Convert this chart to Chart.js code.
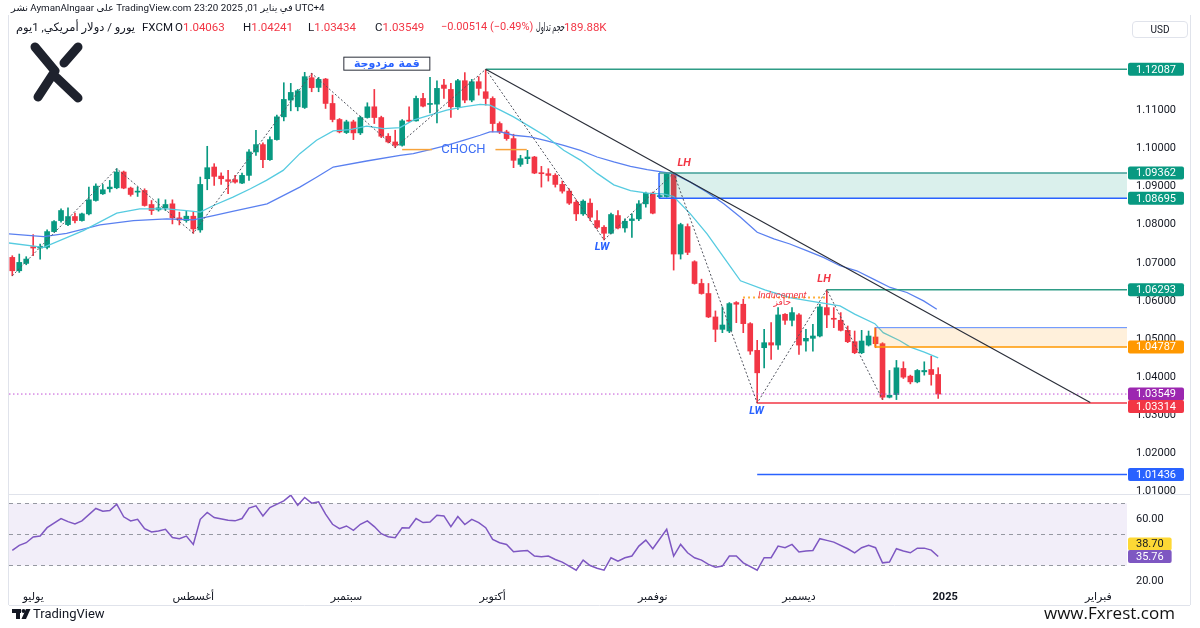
<!DOCTYPE html>
<html>
<head>
<meta charset="utf-8">
<script src="https://cdn.jsdelivr.net/npm/chart.js@4.4.1/dist/chart.umd.min.js"></script>
<style>
 html,body{margin:0;padding:0;background:#ffffff;}
 #wrap{position:relative;width:1200px;height:628px;overflow:hidden;background:#fff;}
 #c{position:absolute;left:0;top:0;}
 .t{position:absolute;white-space:nowrap;color:#131722;font-family:Roboto,"Noto Sans","DejaVu Sans",sans-serif;}
 #h1{left:11px;top:2px;font-size:9.8px;}
 #h2{left:16px;top:20px;font-size:11.5px;}
 #h2 > span{display:inline-block;vertical-align:top;overflow:visible;}
 .r{color:#f23645;}
 #vol span{display:inline-block;transform:scaleX(0.56);transform-origin:0 50%;}
 #usd{left:1132px;top:21px;width:54px;height:15px;border:1px solid #e0e3eb;border-radius:4px;font-size:10px;text-align:center;line-height:15px;}
 #tv{left:33px;top:606px;font-size:13px;color:#131722;}
 #fx{left:1044px;top:601px;font-size:17px;color:#111;font-family:"Open Sans","Noto Sans",sans-serif;}
</style>
</head>
<body>
<div id="wrap">
<canvas id="c" width="1200" height="628"></canvas>
<div class="t" id="h1">نشر AymanAlngaar على TradingView.com في يناير 01, 2025 23:20 UTC+4</div>
<div class="t" id="h2"><span style="width:126px">يورو / دولار أمريكي, 1يوم</span><span style="width:33px">FXCM</span><span style="width:68px">O<span class="r">1.04063</span></span><span style="width:65px">H<span class="r">1.04241</span></span><span style="width:67px">L<span class="r">1.03434</span></span><span style="width:66px">C<span class="r">1.03549</span></span><span class="r" style="width:95px;font-size:11px">−0.00514 (−0.49%)</span><span id="vol" style="width:28px"><span>حجم تداول</span></span><span class="r">189.88K</span></div>
<div class="t" id="usd">USD</div>
<div class="t" id="tv">TradingView</div>
<div class="t" id="fx">www.Fxrest.com</div>
</div>
<script>
// ---------- DATA ----------
const openP = [1.07142,1.06790,1.06984,1.07424,1.07388,1.07406,1.07820,1.08110,1.08004,1.08216,
 1.08110,1.08286,1.08638,1.08814,1.08946,1.08972,1.09386,1.08964,1.08858,1.08902,
 1.08532,1.08392,1.08444,1.08550,1.08181,1.08110,1.08225,1.07864,1.09210,1.09518,
 1.09280,1.09184,1.09184,1.09096,1.09298,1.09914,1.10107,1.09711,1.10239,1.10837,
 1.11277,1.11101,1.11083,1.11866,1.11611,1.11831,1.11189,1.10767,1.10424,1.10705,
 1.10415,1.10819,1.11101,1.10819,1.10327,1.10177,1.10089,1.10749,1.10731,1.11321,
 1.11163,1.11171,1.11673,1.11558,1.11101,1.11787,1.11277,1.11761,1.11497,1.11321,
 1.10661,1.10441,1.10265,1.09588,1.09738,1.09781,1.09368,1.09342,1.09298,1.09060,
 1.08884,1.08594,1.08286,1.08568,1.08110,1.07934,1.07776,1.08242,1.07916,1.08110,
 1.08154,1.08550,1.08831,1.08740,1.08743,1.09340,1.07230,1.07952,1.07028,1.06456,
 1.06192,1.05576,1.05250,1.05206,1.05954,1.05910,1.05400,1.04697,1.04767,1.04899,
 1.04837,1.05646,1.05488,1.05629,1.04943,1.05014,1.05075,1.05822,1.05541,1.05488,
 1.05224,1.04925,1.04635,1.04837,1.05049,1.04873,1.03465,1.03535,1.04222,1.04019,
 1.03869,1.04133,1.04194,1.04063];
const highP = [1.07186,1.07230,1.07160,1.07740,1.07494,1.07864,1.08110,1.08418,1.08444,1.08304,
 1.08304,1.08990,1.09078,1.09060,1.09166,1.09474,1.09412,1.08990,1.08990,1.08946,
 1.08638,1.08682,1.08656,1.08656,1.08330,1.08357,1.08330,1.09254,1.10063,1.09606,
 1.09368,1.09430,1.09298,1.09360,1.09975,1.10485,1.10151,1.10309,1.10881,1.11734,
 1.11717,1.11558,1.12007,1.11981,1.11875,1.11848,1.11409,1.10793,1.10749,1.10749,
 1.10855,1.11207,1.11558,1.10855,1.10397,1.10485,1.10767,1.11101,1.11382,1.11453,
 1.11875,1.11787,1.11822,1.11717,1.11822,1.12000,1.11822,1.11893,1.12087,1.11365,
 1.10705,1.10485,1.10380,1.09826,1.09957,1.09799,1.09535,1.09474,1.09342,1.09148,
 1.08946,1.08656,1.08656,1.08682,1.08374,1.07978,1.08304,1.08374,1.08154,1.08286,
 1.08638,1.08858,1.08858,1.08790,1.09350,1.09362,1.08040,1.08022,1.07054,1.06570,
 1.06456,1.05734,1.05840,1.05954,1.05980,1.06042,1.05426,1.04961,1.05250,1.05426,
 1.05822,1.05664,1.05822,1.05664,1.05250,1.05382,1.05910,1.06293,1.05822,1.05690,
 1.05338,1.05206,1.05224,1.05206,1.05294,1.04899,1.04169,1.04433,1.04397,1.04046,
 1.04194,1.04397,1.04547,1.04241];
const lowP = [1.06658,1.06746,1.06948,1.07186,1.07098,1.07362,1.07802,1.08066,1.07978,1.08048,
 1.08092,1.08260,1.08620,1.08796,1.08858,1.08946,1.08946,1.08752,1.08744,1.08488,
 1.08269,1.08357,1.08374,1.08022,1.07996,1.08066,1.07776,1.07802,1.08920,1.09034,
 1.09060,1.08814,1.09096,1.09078,1.09166,1.09826,1.09500,1.09694,1.10221,1.10731,
 1.10995,1.10995,1.11057,1.11497,1.11497,1.11057,1.10705,1.10415,1.10397,1.10239,
 1.10371,1.10802,1.10661,1.10291,1.10151,1.10028,1.10063,1.10705,1.10723,1.11101,
 1.10943,1.10679,1.11321,1.10819,1.11031,1.11207,1.11233,1.11409,1.11145,1.10441,
 1.10397,1.10221,1.09500,1.09535,1.09606,1.09342,1.08990,1.09148,1.08990,1.08831,
 1.08532,1.08110,1.08242,1.08110,1.07890,1.07600,1.07758,1.07890,1.07802,1.07670,
 1.08110,1.08462,1.08286,1.08720,1.08726,1.06808,1.07098,1.07213,1.06438,1.06174,
 1.05558,1.04925,1.05162,1.05162,1.05426,1.05162,1.04591,1.03314,1.04239,1.04459,
 1.04723,1.05382,1.05338,1.04591,1.04679,1.04679,1.05049,1.05294,1.05294,1.05206,
 1.04899,1.04609,1.04609,1.04811,1.04767,1.03403,1.03447,1.03403,1.03958,1.03817,
 1.03843,1.04046,1.03782,1.03434];
const closeP = [1.06790,1.07010,1.07098,1.07388,1.07432,1.07820,1.08084,1.08374,1.08216,1.08110,
 1.08286,1.08656,1.09016,1.08920,1.08990,1.09386,1.08964,1.08796,1.08884,1.08506,
 1.08374,1.08444,1.08532,1.08181,1.08128,1.08225,1.07890,1.09060,1.09500,1.09272,
 1.09210,1.09140,1.09122,1.09298,1.09914,1.10107,1.09711,1.10239,1.10837,1.11295,
 1.11479,1.11523,1.11893,1.11602,1.11822,1.11189,1.10767,1.10441,1.10705,1.10415,
 1.10819,1.11101,1.10819,1.10327,1.10177,1.10089,1.10731,1.10723,1.11321,1.11119,
 1.11189,1.11585,1.11585,1.11101,1.11787,1.11277,1.11761,1.11585,1.11321,1.10661,
 1.10441,1.10265,1.09694,1.09738,1.09781,1.09359,1.09342,1.09298,1.09060,1.08884,
 1.08568,1.08286,1.08620,1.08198,1.07934,1.07776,1.08269,1.07916,1.08092,1.08154,
 1.08550,1.08831,1.08304,1.08760,1.09342,1.07230,1.08004,1.07274,1.06456,1.06192,
 1.05576,1.05250,1.05364,1.05927,1.05910,1.05400,1.04679,1.04107,1.04899,1.04837,
 1.05629,1.05488,1.05690,1.04837,1.05014,1.05075,1.05840,1.05629,1.05515,1.05224,
 1.04925,1.04635,1.04943,1.05075,1.04873,1.03465,1.03518,1.04239,1.03993,1.03869,
 1.04169,1.04169,1.04063,1.03549];

// moving averages: [bar index, price]
const maFast = [[-0.5,1.0752],[4.5,1.07406],[10.2,1.07846],[15,1.08304],[18.3,1.08418],[22.2,1.08418],[25,1.08374],[27,1.0833],[28.9,1.08506],[31.7,1.08726],[34.2,1.08946],[36.5,1.09166],[38.9,1.0943],[41.3,1.09869],[43.7,1.10221],[46.1,1.10467],[48.5,1.10503],[50.9,1.10591],[53.3,1.10529],[55.7,1.10555],[57.6,1.10749],[60,1.10881],[62.4,1.11013],[64.8,1.11101],[67.2,1.11163],[68.6,1.11145],[70.1,1.11013],[72,1.10837],[74.4,1.10573],[76.8,1.10309],[79.2,1.0996],[81.6,1.0970],[84,1.0935],[86.4,1.0905],[88.8,1.0890],[91.2,1.0883],[93.5,1.08814],[95,1.08743],[97.4,1.08286],[99.8,1.07758],[102.2,1.07142],[104.6,1.06526],[108.1,1.06289],[111.7,1.06086],[115.1,1.0598],[118.9,1.05866],[121,1.0565],[123.9,1.05399],[125.1,1.05162],[127.5,1.0495],[129,1.04784],[131,1.0465],[133,1.04502]];
const maSlow = [[-0.5,1.07758],[4.5,1.07688],[7.8,1.07776],[12.6,1.07996],[17.4,1.0811],[22.2,1.08154],[26,1.08128],[28.9,1.08242],[31.8,1.08357],[36.6,1.0855],[41.3,1.0899],[43.7,1.0925],[46.1,1.09518],[50.9,1.09676],[55.7,1.09826],[57.6,1.09869],[60,1.09975],[62.4,1.10089],[64.8,1.10221],[67.2,1.10353],[68.6,1.10441],[70.1,1.10441],[72,1.10353],[74.4,1.10309],[76.8,1.10203],[79.2,1.10089],[81.6,1.09957],[84,1.09781],[86.4,1.0965],[88.8,1.09535],[91.2,1.09447],[93.5,1.09386],[95,1.09342],[97.4,1.09122],[99.8,1.08858],[102.2,1.0855],[104.6,1.08198],[107,1.07802],[109.4,1.07626],[111.7,1.07494],[114.1,1.07318],[116.5,1.07142],[118.9,1.06922],[121.3,1.0679],[123.7,1.0657],[126.1,1.06351],[128.5,1.06219],[130.9,1.05998],[132.8,1.05779]];

const zigzag = [[0,1.06658],[15,1.09474],[26,1.07776],[43,1.11981],[55,1.10028],[68,1.12087],[85,1.07600],[95,1.09362],[107,1.03314],[117,1.06293],[125,1.03403]];
const trendLine = [[68,1.12087],[154.85,1.03326]];

const rsiIdx = [0,1,2,3,4,5,7,8,9,10,12,13,14,15,16,17,18,19,20,21,22,23,24,25,26,27,28,29,31,32,33,34,35,36,37,39,40,41,42,43,44,45,46,47,48,49,50,51,52,53,54,55,56,57,58,59,60,61,62,63,64,65,66,67,68,69,70,71,72,73,74,75,76,77,78,79,81,82,83,84,85,86,87,88,89,90,91,92,94,95,96,97,98,99,100,101,102,103,104,105,107,108,109,110,111,112,113,114,115,116,117,118,120,121,122,123,124,125,126,127,128,129,130,131,132,133];
const rsiVal = [39.7,43.0,44.7,48.4,49.0,54.4,60.3,58.3,56.8,58.8,66.8,65.0,65.5,69.6,61.4,58.8,59.8,53.8,51.6,52.3,53.4,48.0,47.3,49.0,43.6,59.8,64.2,60.9,59.2,58.8,60.3,67.0,68.5,62.0,67.4,71.7,75.4,68.9,73.9,70.2,71.1,63.1,56.6,53.8,55.5,52.7,56.6,58.8,55.1,50.5,48.6,47.9,54.4,54.2,60.3,57.7,58.1,62.4,62.0,55.1,61.6,56.4,59.8,57.7,54.4,46.9,44.7,43.6,38.9,39.3,39.7,36.1,35.6,36.1,33.9,32.2,27.0,33.5,30.0,28.2,27.0,35.0,32.8,35.0,36.1,42.5,46.4,40.8,53.4,36.1,43.6,38.2,35.0,33.5,30.7,28.9,29.6,36.1,36.1,31.7,27.0,35.0,35.0,42.5,41.5,43.6,38.7,39.3,39.7,47.3,46.2,45.1,40.8,38.2,41.5,43.0,41.5,31.7,32.2,40.8,39.3,38.2,41.2,41.2,39.9,35.76];
const rsiMaLast = 38.70;
const rsiLevels = [70, 50, 30];

const levels = [1.12087,1.09362,1.08695,1.06293,1.04787,1.03549,1.03314,1.01436];
const levelStart = [68,92.9,92.9,117,123.9,-1,107,107];
const orangeZoneTop = 1.05294;
const chochLevel = 1.09976, chochFrom = 56, chochTo = 73.9;
const inducementLevel = 1.06086, inducementFrom = 105, inducementTo = 116.8;

const priceTicks = [1.01,1.02,1.03,1.04,1.05,1.06,1.07,1.08,1.09,1.10,1.11,1.12];
const rsiTicks = [20,40,60];
const monthTickIdx = [3,26,48,69,92,113,134,156];
const monthLabels = ['يوليو','أغسطس','سبتمبر','أكتوبر','نوفمبر','ديسمبر','2025','فبراير'];

// ---------- VIEW ----------
const X_MIN = -0.474, X_MAX = 160.12;
const P_MIN = 1.009209, P_MAX = 1.134884;
const R_MIN = 15.48, R_MAX = 76.13;
const GREEN = '#089981', RED = '#f23645';
const FONT = 'Roboto, "Noto Sans", "DejaVu Sans", sans-serif';

const pts = a => a.map(p => ({x: p[0], y: p[1]}));
const hl = (from, v, to) => [{x: from, y: v}, {x: (to === undefined ? X_MAX : to), y: v}];
const line = (data, color, width, extra) => Object.assign({type: 'line', data, borderColor: color, borderWidth: width, pointRadius: 0, pointHoverRadius: 0, fill: false, tension: 0, yAxisID: 'y', order: 2}, extra || {});

const candleCol = openP.map((o, i) => closeP[i] >= o ? GREEN : RED);
const wicks = openP.map((o, i) => ({x: i, y: [lowP[i], highP[i]]}));
const bodies = openP.map((o, i) => ({x: i, y: [o, closeP[i]]}));
const startOf = i => levelStart[i] < 0 ? X_MIN : levelStart[i];

const datasets = [
  line(pts(zigzag), '#50535e', 1, {borderDash: [2, 2], order: 1}),
  line(pts(trendLine), '#2a2e39', 1.2, {order: 1}),
  line(hl(chochFrom, chochLevel, 60.3), '#f7a33b', 1.5, {order: 1}),
  line(hl(69.4, chochLevel, chochTo), '#f7a33b', 1.5, {order: 1}),
  line(hl(inducementFrom, inducementLevel, inducementTo), '#ff9800', 2, {borderDash: [1.5, 3.5], order: 1}),
  line(hl(startOf(0), levels[0]), '#2e9c86', 1.5),
  line(hl(startOf(1), levels[1]), '#3f9f97', 1.5, {fill: {value: levels[2]}, backgroundColor: 'rgba(8,153,129,0.15)', order: 3}),
  line(hl(startOf(2), levels[2]), '#2962ff', 1.5),
  line([{x: startOf(1), y: levels[2]}, {x: startOf(1), y: levels[1]}], '#2962ff', 1.5),
  line(hl(startOf(3), levels[3]), '#2e9c86', 1.5),
  line(hl(startOf(4), orangeZoneTop), '#5b8cff', 1, {fill: {value: levels[4]}, backgroundColor: 'rgba(255,152,0,0.14)', order: 3}),
  line(hl(startOf(4), levels[4]), '#ff9800', 1.5),
  line([{x: startOf(4), y: levels[4]}, {x: startOf(4), y: orangeZoneTop}], '#ff9800', 1),
  line(hl(startOf(5), levels[5]), '#c24fd6', 1, {borderDash: [1.5, 2.5]}),
  line(hl(startOf(6), levels[6]), '#f23645', 1.5),
  line(hl(startOf(7), levels[7]), '#2962ff', 1.5),
  line(pts(maFast), '#56cbe0', 1.3, {order: 4}),
  line(pts(maSlow), '#5a80f0', 1.3, {order: 4}),
  {type: 'bar', data: bodies, backgroundColor: candleCol, borderWidth: 0, barThickness: 5, minBarLength: 1, grouped: false, yAxisID: 'y', order: 5},
  {type: 'bar', data: wicks, backgroundColor: candleCol, borderWidth: 0, barThickness: 1, grouped: false, yAxisID: 'y', order: 6},
  // RSI pane
  line(rsiIdx.map((x, i) => ({x, y: rsiVal[i]})), '#7e57c2', 1.5, {yAxisID: 'yr', order: 1}),
  line(hl(X_MIN, rsiLevels[0]), '#9598a1', 1, {yAxisID: 'yr', borderDash: [4, 4], order: 7}),
  line(hl(X_MIN, rsiLevels[1]), '#9598a1', 1, {yAxisID: 'yr', borderDash: [4, 4], order: 7}),
  line(hl(X_MIN, rsiLevels[2]), '#9598a1', 1, {yAxisID: 'yr', borderDash: [4, 4], order: 7}),
  line(hl(X_MIN, rsiLevels[0]), 'rgba(0,0,0,0)', 0, {yAxisID: 'yr', fill: {value: rsiLevels[2]}, backgroundColor: 'rgba(126,87,194,0.10)', order: 9})
];

function rr(ctx, x, y, w, h, r) {
  ctx.beginPath();
  ctx.moveTo(x + r, y); ctx.lineTo(x + w - r, y); ctx.quadraticCurveTo(x + w, y, x + w, y + r);
  ctx.lineTo(x + w, y + h - r); ctx.quadraticCurveTo(x + w, y + h, x + w - r, y + h);
  ctx.lineTo(x + r, y + h); ctx.quadraticCurveTo(x, y + h, x, y + h - r);
  ctx.lineTo(x, y + r); ctx.quadraticCurveTo(x, y, x + r, y); ctx.closePath();
}
function tag(ctx, y, text, bg, fg) {
  ctx.font = '11px ' + FONT;
  const w = ctx.measureText(text).width + 16;
  ctx.fillStyle = bg; rr(ctx, 1128, y - 6.5, w, 13, 2); ctx.fill();
  ctx.fillStyle = fg; ctx.textAlign = 'left'; ctx.textBaseline = 'middle';
  ctx.fillText(text, 1136, y + 0.5);
}

const overlay = {
  id: 'overlay',
  afterDraw(chart) {
    const ctx = chart.ctx, xs = chart.scales.x, ys = chart.scales.y, yr = chart.scales.yr;
    const X = v => xs.getPixelForValue(v), Y = v => ys.getPixelForValue(v);
    ctx.save();
    // pane borders
    ctx.strokeStyle = '#e0e3eb'; ctx.lineWidth = 1;
    ctx.beginPath();
    ctx.moveTo(9, 494.5); ctx.lineTo(1190, 494.5);
    ctx.moveTo(9, 605.5); ctx.lineTo(1190, 605.5);
    ctx.moveTo(1190.5, 15); ctx.lineTo(1190.5, 605);
    ctx.moveTo(8.5, 15); ctx.lineTo(8.5, 605);
    ctx.stroke();

    // text annotations
    ctx.textAlign = 'center'; ctx.textBaseline = 'middle';
    ctx.font = '13px ' + FONT; ctx.fillStyle = '#3d6ef5';
    ctx.fillText('CHOCH', X(64.8), Y(chochLevel));
    ctx.font = 'italic bold 11px ' + FONT; ctx.fillStyle = '#f23645';
    ctx.fillText('LH', X(96.5), Y(1.09627));
    ctx.fillText('LH', X(116.6), Y(1.06579));
    ctx.fillStyle = '#2962ff';
    ctx.fillText('LW', X(84.7), Y(1.07410));
    ctx.fillText('LW', X(106.9), Y(1.03095));
    ctx.font = 'italic 9.5px ' + FONT; ctx.fillStyle = '#f23645';
    ctx.fillText('Inducement', X(110.6), Y(1.06149));
    ctx.font = '9px "DejaVu Sans", sans-serif';
    ctx.fillText('حافز', X(110.6), Y(1.05950));
    // double top box
    const bx = X(53.8), by = Y(1.12235);
    ctx.fillStyle = '#ffffff'; ctx.fillRect(bx - 43.5, by - 7, 87, 14);
    ctx.strokeStyle = '#2a2e39'; ctx.lineWidth = 1; ctx.strokeRect(bx - 43.5 + 0.5, by - 7 + 0.5, 86, 13);
    ctx.font = 'bold 11px "DejaVu Sans", sans-serif'; ctx.fillStyle = '#2962ff';
    ctx.fillText('قمة مزدوجة', bx, by + 0.5);

    // price tags
    const tcol = [GREEN, GREEN, GREEN, GREEN, '#ff9800', '#9c27b0', '#f23645', '#2962ff'];
    const fixedY = Y(levels[5]);
    levels.forEach((v, i) => {
      let y = Y(v);
      if (i !== 5 && Math.abs(y - fixedY) < 12.5) y = y > fixedY ? fixedY + 12.5 : fixedY - 12.5;
      tag(ctx, y, v.toFixed(5), tcol[i], '#ffffff');
    });
    const rY = yr.getPixelForValue(rsiVal[rsiVal.length - 1]);
    let mY = yr.getPixelForValue(rsiMaLast);
    if (Math.abs(mY - rY) < 12.5) mY = rY - 12.5;
    tag(ctx, mY, rsiMaLast.toFixed(2), '#fdd835', '#131722');
    tag(ctx, rY, rsiVal[rsiVal.length - 1].toFixed(2), '#7e57c2', '#ffffff');

    // logo
    ctx.strokeStyle = '#1e222d'; ctx.lineWidth = 9; ctx.lineCap = 'round'; ctx.lineJoin = 'round';
    ctx.beginPath();
    ctx.moveTo(35, 47); ctx.lineTo(55, 71); ctx.lineTo(38, 97);
    ctx.moveTo(57, 78); ctx.lineTo(78, 98);
    ctx.moveTo(78, 47); ctx.lineTo(64, 63);
    ctx.stroke();

    // TradingView mark
    ctx.fillStyle = '#131722';
    ctx.fillRect(12, 609, 9, 4); ctx.fillRect(16, 609, 4, 10);
    ctx.beginPath(); ctx.arc(23.5, 611, 2, 0, Math.PI * 2); ctx.fill();
    ctx.beginPath(); ctx.moveTo(26, 609); ctx.lineTo(30.5, 609); ctx.lineTo(26, 619); ctx.lineTo(21.5, 619); ctx.closePath(); ctx.fill();
    ctx.restore();
  }
};

new Chart(document.getElementById('c'), {
  type: 'bar',
  data: {datasets},
  options: {
    responsive: false, animation: false, devicePixelRatio: 1,
    layout: {padding: {left: 9, top: 16, right: 0, bottom: 0}},
    plugins: {legend: {display: false}, tooltip: {enabled: false}},
    scales: {
      x: {
        type: 'linear', min: X_MIN, max: X_MAX, offset: false,
        grid: {display: false, drawTicks: false}, border: {display: false},
        afterBuildTicks: s => { s.ticks = monthTickIdx.map(v => ({value: v})); },
        afterFit: s => { s.height = 40; },
        ticks: {
          autoSkip: false, maxRotation: 0, padding: 3, color: '#131722',
          font: c => ({family: FONT, size: 11, weight: (c.tick && c.tick.label === '2025') ? 'bold' : 'normal'}),
          callback: (v, i) => monthLabels[i]
        }
      },
      y: {
        type: 'linear', position: 'right', stack: 'panes', stackWeight: 478, min: P_MIN, max: P_MAX,
        grid: {display: false, drawTicks: false}, border: {display: false},
        afterBuildTicks: s => { s.ticks = priceTicks.map(v => ({value: v})); },
        afterFit: s => { s.width = 73; },
        ticks: {padding: 9, color: '#131722', font: {family: FONT, size: 11}, callback: v => v.toFixed(5)}
      },
      yr: {
        type: 'linear', position: 'right', stack: 'panes', stackWeight: 94, min: R_MIN, max: R_MAX,
        grid: {display: false, drawTicks: false}, border: {display: false},
        afterBuildTicks: s => { s.ticks = rsiTicks.map(v => ({value: v})); },
        afterFit: s => { s.width = 73; },
        ticks: {padding: 9, color: '#131722', font: {family: FONT, size: 11}, callback: v => v.toFixed(2)}
      }
    }
  },
  plugins: [overlay]
});
</script>
</body>
</html>
